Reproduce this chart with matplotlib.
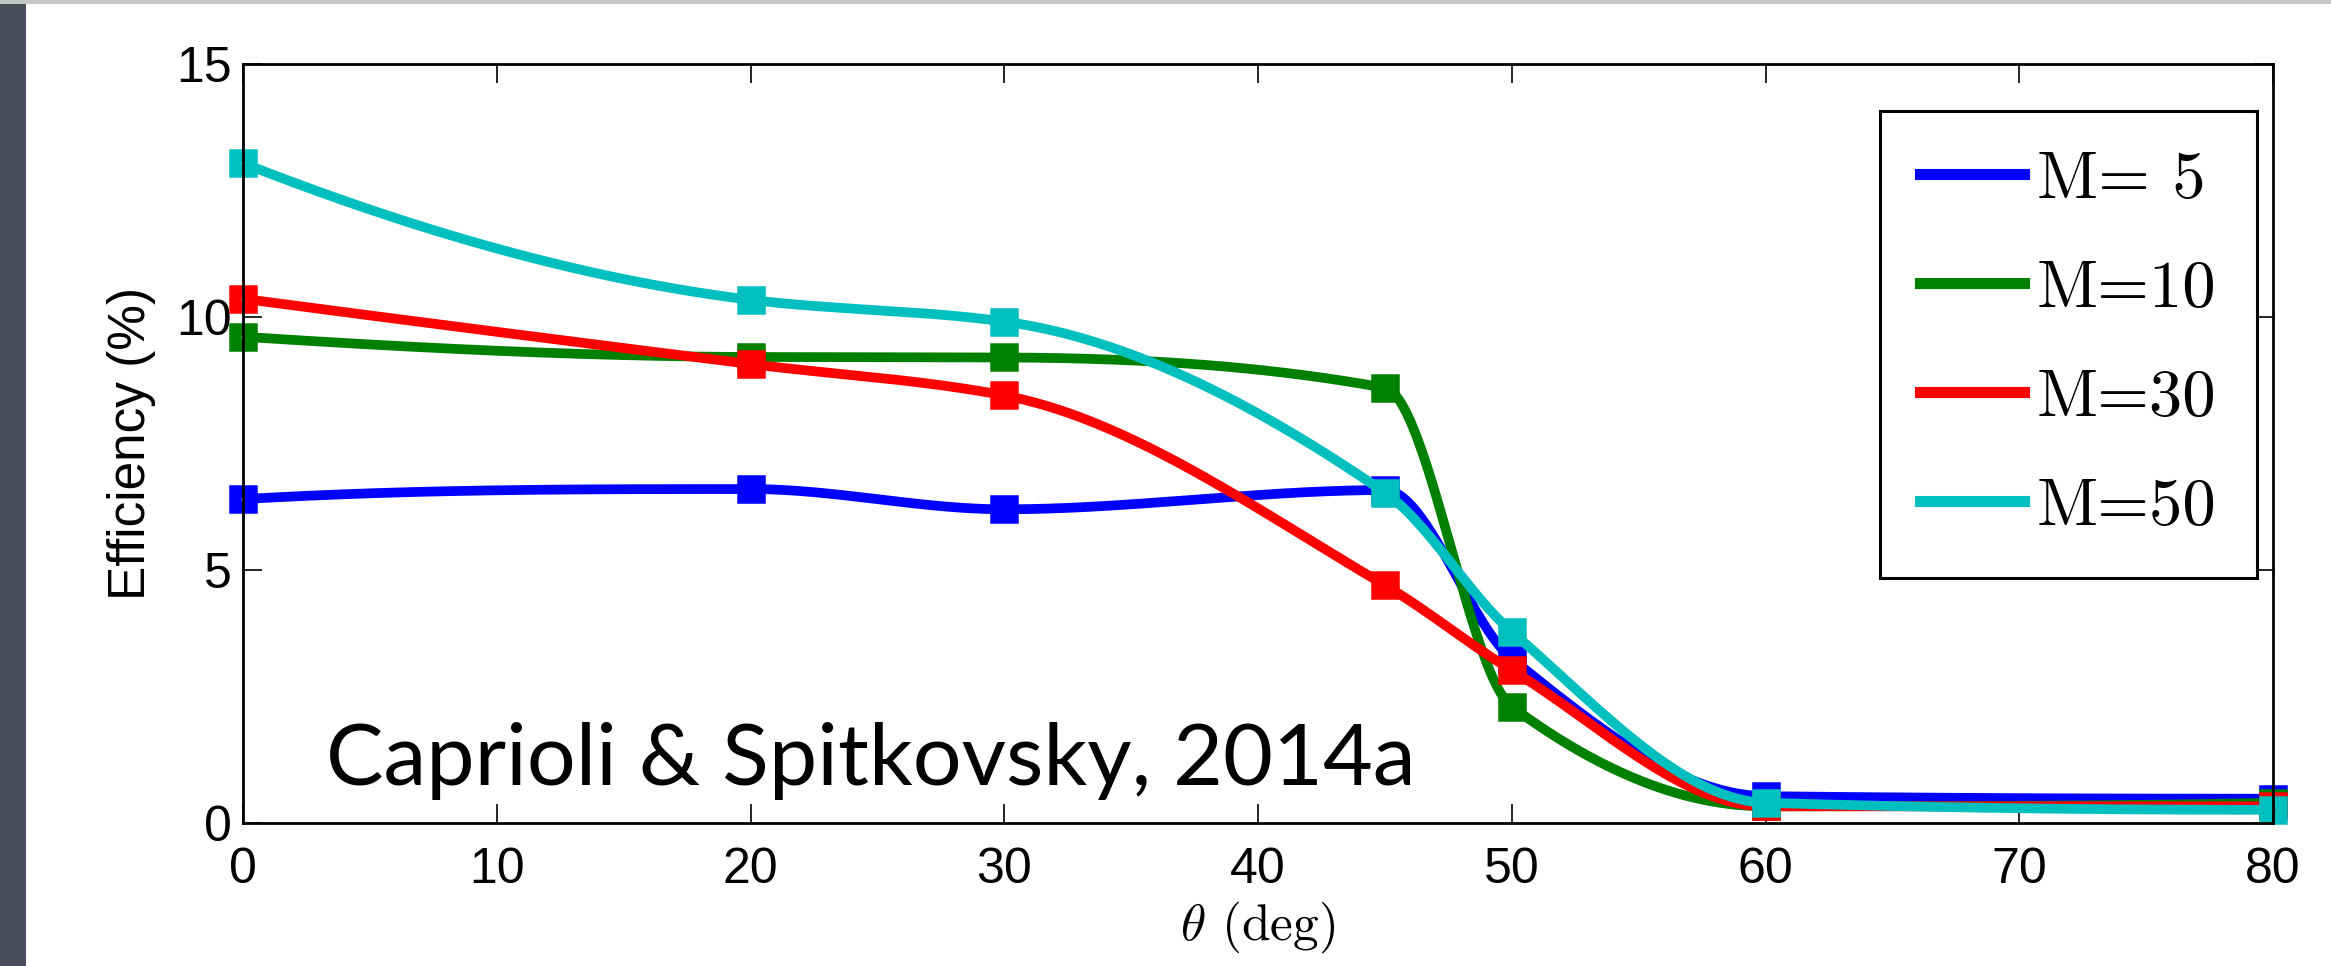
import numpy as np
import matplotlib
matplotlib.use("Agg")
import matplotlib.pyplot as plt
from matplotlib.lines import Line2D
from matplotlib.patches import Rectangle

plt.rcParams['font.family'] = ['Liberation Sans', 'DejaVu Sans']
plt.rcParams['mathtext.fontset'] = 'cm'

# obliquity angle (deg) and acceleration efficiency (%) for each Mach number
theta = [0, 20, 30, 45, 50, 60, 80]
eff_m5 = [6.40, 6.60, 6.20, 6.58, 3.25, 0.53, 0.48]
eff_m10 = [9.61, 9.21, 9.20, 8.60, 2.30, 0.33, 0.40]
eff_m30 = [10.36, 9.07, 8.45, 4.70, 3.02, 0.33, 0.33]
eff_m50 = [13.04, 10.34, 9.91, 6.53, 3.78, 0.40, 0.26]

labels = ['M= 5', 'M=10', 'M=30', 'M=50']
colors = ['#0000ff', '#008000', '#ff0000', '#00bfbf']


def pchip(x, y, xs):
    # shape-preserving piecewise cubic (Fritsch-Carlson)
    x = np.asarray(x, float)
    y = np.asarray(y, float)
    h = np.diff(x)
    delta = np.diff(y) / h
    n = len(x)
    d = np.zeros(n)
    for k in range(1, n - 1):
        if delta[k - 1] * delta[k] > 0:
            w1 = 2 * h[k] + h[k - 1]
            w2 = h[k] + 2 * h[k - 1]
            d[k] = (w1 + w2) / (w1 / delta[k - 1] + w2 / delta[k])

    def end_slope(h0, h1, del0, del1):
        s = ((2 * h0 + h1) * del0 - h0 * del1) / (h0 + h1)
        if np.sign(s) != np.sign(del0):
            s = 0.0
        elif np.sign(del0) != np.sign(del1) and abs(s) > abs(3 * del0):
            s = 3 * del0
        return s

    d[0] = end_slope(h[0], h[1], delta[0], delta[1])
    d[-1] = end_slope(h[-1], h[-2], delta[-1], delta[-2])

    idx = np.clip(np.searchsorted(x, xs) - 1, 0, n - 2)
    t = (xs - x[idx]) / h[idx]
    h00 = 2 * t**3 - 3 * t**2 + 1
    h10 = t**3 - 2 * t**2 + t
    h01 = -2 * t**3 + 3 * t**2
    h11 = t**3 - t**2
    return h00 * y[idx] + h10 * h[idx] * d[idx] + h01 * y[idx + 1] + h11 * h[idx] * d[idx + 1]


fig = plt.figure(figsize=(23.31, 9.66), dpi=100)
ax = fig.add_axes([0.10425, 0.14803, 0.87087, 0.78571])

xs = np.linspace(0, 80, 800)
for yv, c in zip([eff_m5, eff_m10, eff_m30, eff_m50], colors):
    ax.plot(xs, pchip(theta, yv, xs), color=c, lw=7, solid_capstyle='butt',
            clip_on=False, zorder=2)
    ax.plot(theta, yv, ls='none', marker='s', ms=12, mew=9, mfc='none',
            mec=c, clip_on=False, zorder=2)

ax.set_xlim(0, 80)
ax.set_ylim(0, 15)
ax.set_xticks(range(0, 81, 10))
ax.set_yticks([0, 5, 10, 15])

ax.tick_params(direction='in', length=13.5, width=1.2, labelsize=36,
               top=True, right=True)
ax.tick_params(axis='x', pad=17)
ax.tick_params(axis='y', pad=8)
for sp in ax.spines.values():
    sp.set_linewidth(2.0)
    sp.set_zorder(5)

ax.set_ylabel('Efficiency (%)', fontsize=37)
ax.yaxis.set_label_coords(-0.043, 0.5)
ax.set_xlabel(r'$\theta$ (deg)', fontsize=37, family='cmr10')
ax.xaxis.set_label_coords(0.5, -0.1)

ax.text(0.041, 0.05, 'Caprioli & Spitkovsky, 2014a', transform=ax.transAxes,
        fontsize=62, family='Lato', va='baseline', ha='left')

handles = [Line2D([], [], color=c, lw=8) for c in colors]
leg = ax.legend(handles, labels, loc='upper right', bbox_to_anchor=(0.992, 0.938),
                prop={'family': 'cmr10', 'size': 48}, handlelength=1.55,
                handletextpad=0.2, labelspacing=0.74, borderpad=0.6,
                borderaxespad=0, fancybox=False, framealpha=1, edgecolor='black')
leg.get_frame().set_linewidth(2.2)
leg.set_zorder(6)

# window chrome: grey top edge and dark strip on the left
fig.patches.append(Rectangle((0, 962), 2331, 4, transform=None,
                             facecolor='#c6c6c6', edgecolor='none'))
fig.patches.append(Rectangle((0, 0), 26, 962, transform=None,
                             facecolor='#4a4d5b', edgecolor='none'))

fig.savefig('out.png', dpi=100)
